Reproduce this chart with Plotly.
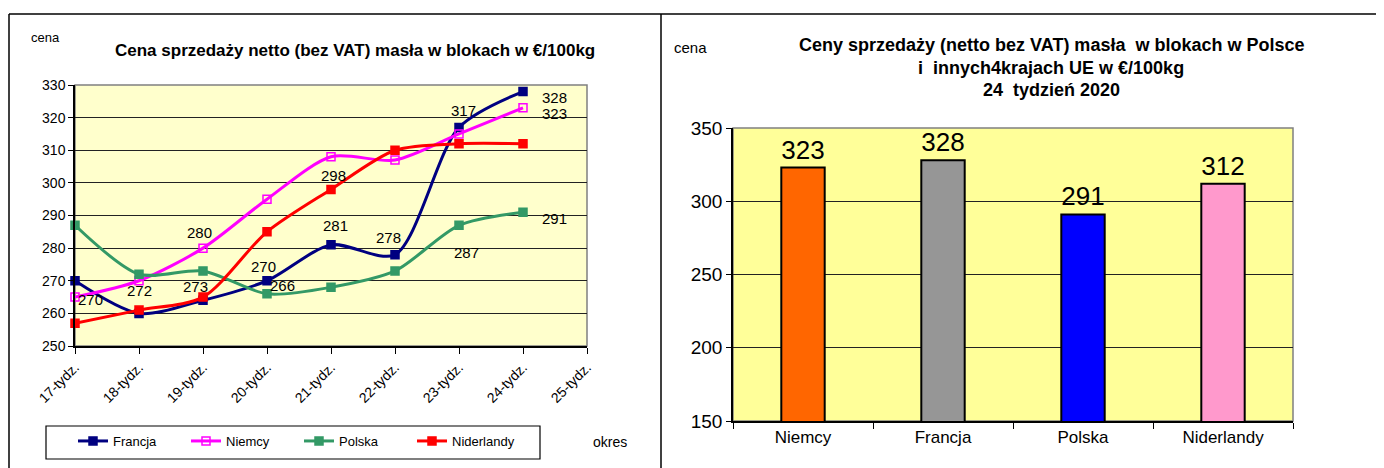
import plotly.graph_objects as go

# ---------------- data ----------------
weeks = ["17-tydz.", "18-tydz.", "19-tydz.", "20-tydz.", "21-tydz.", "22-tydz.", "23-tydz.", "24-tydz.", "25-tydz."]
francja = [270, 260, 264, 270, 281, 278, 317, 328]
niemcy = [265, 270, 280, 295, 308, 307, 315, 323]
polska = [287, 272, 273, 266, 268, 273, 287, 291]
niderlandy = [257, 261, 265, 285, 298, 310, 312, 312]

bar_countries = ["Niemcy", "Francja", "Polska", "Niderlandy"]
bar_values = [323, 328, 291, 312]

OFF = 8  # page body margin
W, H = 1384 - OFF, 468 - OFF
FONT = "Liberation Sans, Arial, sans-serif"


def px(x):
    return (x - OFF) / W


def py(y):
    return 1 - (y - OFF) / H


fig = go.Figure()

series = [
    ("Francja", francja, "#000080", "square"),
    ("Niemcy", niemcy, "#FF00FF", "square-open"),
    ("Polska", polska, "#339966", "square"),
    ("Niderlandy", niderlandy, "#FF0000", "square"),
]
for name, vals, col, sym in series:
    fig.add_trace(go.Scatter(
        x=weeks[:len(vals)], y=vals, name=name, mode="lines+markers",
        line=dict(color=col, width=3, shape="spline", smoothing=0.8),
        marker=dict(color=col, symbol=sym, size=8, line=dict(color=col, width=1.5)),
        xaxis="x", yaxis="y", cliponaxis=False,
    ))

# data labels (series index, point index, dx, dy in pixels)
label_spec = [
    (0, 0, 15, -19), (2, 1, 0, -16), (2, 2, -8, -16), (1, 2, -4, 16),
    (0, 3, -4, 14), (2, 3, 15, 8), (3, 4, 2, 14), (0, 4, 4, 19),
    (0, 5, -7, 17), (0, 6, 4, 17), (2, 6, 7, -27), (0, 7, 31, -6),
    (1, 7, 31, -6), (2, 7, 31, -6),
]
for si, pi, dx, dy in label_spec:
    vals = series[si][1]
    fig.add_annotation(x=weeks[pi], y=vals[pi], xref="x", yref="y",
                       text=str(vals[pi]), showarrow=False, xshift=dx, yshift=dy,
                       font=dict(family=FONT, size=15, color="black"))

fig.add_trace(go.Bar(
    x=bar_countries, y=bar_values, xaxis="x2", yaxis="y2", showlegend=False,
    marker=dict(color=["#FF6600", "#969696", "#0000FF", "#FF99CC"], line=dict(color="black", width=2)),
    width=0.31, text=[str(v) for v in bar_values], textposition="outside",
    textfont=dict(family=FONT, size=26, color="black"), cliponaxis=False,
))

fig.update_layout(
    width=W, height=H, margin=dict(l=0, r=0, t=0, b=0, autoexpand=False),
    paper_bgcolor="white", plot_bgcolor="rgba(0,0,0,0)",
    font=dict(family=FONT, color="black"),
    xaxis=dict(domain=[px(75), px(587)], anchor="y", type="category", automargin=False,
               categoryorder="array", categoryarray=weeks, range=[0, 8],
               tickangle=-45, tickfont=dict(size=14), ticks="outside", ticklen=6,
               tickcolor="black", showline=True, linecolor="black", linewidth=1.5,
               showgrid=False, zeroline=False),
    yaxis=dict(domain=[py(346), py(85)], anchor="x", range=[250, 330], dtick=10, automargin=False,
               tickfont=dict(size=14), ticks="outside", ticklen=5, tickcolor="black",
               showline=True, linecolor="black", linewidth=1.5,
               showgrid=True, gridcolor="#222222", gridwidth=1, zeroline=False),
    xaxis2=dict(domain=[px(733), px(1293)], anchor="y2", tickfont=dict(size=17), automargin=False,
                ticks="outside", ticklen=6, tickcolor="black", tickson="boundaries",
                showline=True, linecolor="black", linewidth=1.5, showgrid=False),
    yaxis2=dict(domain=[py(421), py(128)], anchor="x2", range=[150, 350], dtick=50, automargin=False,
                tickfont=dict(size=19), ticks="outside", ticklen=5, tickcolor="black",
                showline=True, linecolor="black", linewidth=1.5,
                showgrid=True, gridcolor="#222222", gridwidth=1, zeroline=False),
    legend=dict(orientation="h", x=px(73), y=py(426), xanchor="left", yanchor="top",
                xref="container", yref="container",
                borderwidth=0, bgcolor="rgba(0,0,0,0)",
                font=dict(size=13), entrywidth=68, entrywidthmode="pixels",
                itemwidth=30, tracegroupgap=0),
    bargap=0.69,
)

shapes = [
    # plot backgrounds
    dict(type="rect", xref="paper", yref="paper", x0=px(75), x1=px(587), y0=py(346), y1=py(85),
         fillcolor="#FFFFCC", line=dict(color="#808080", width=1.5), layer="below"),
    dict(type="rect", xref="paper", yref="paper", x0=px(733), x1=px(1293), y0=py(421), y1=py(128),
         fillcolor="#FFFF99", line=dict(color="#808080", width=1.5), layer="below"),
    # legend box
    dict(type="rect", xref="paper", yref="paper", x0=px(46), x1=px(540), y0=py(459), y1=py(426),
         fillcolor="white", line=dict(color="black", width=1.2), layer="below"),
    # panel borders
    dict(type="line", xref="paper", yref="paper", x0=px(9), x1=1, y0=py(14), y1=py(14),
         line=dict(color="black", width=1.5)),
    dict(type="line", xref="paper", yref="paper", x0=px(9), x1=px(9), y0=py(14), y1=0,
         line=dict(color="black", width=1.5)),
    dict(type="line", xref="paper", yref="paper", x0=px(661), x1=px(661), y0=py(14), y1=0,
         line=dict(color="black", width=1.5)),
]
fig.update_layout(shapes=shapes)

texts = [
    ("cena", 45, 38, 13, False),
    ("Cena sprzedaży netto (bez VAT) masła w blokach w €/100kg", 355, 50, 17, True),
    ("okres", 610, 442, 14, False),
    ("cena", 690, 48, 15, False),
    ("Ceny sprzedaży (netto bez VAT) masła  w blokach w Polsce", 1051, 45, 18, True),
    ("i  innych4krajach UE w €/100kg", 1051, 68, 18, True),
    ("24  tydzień 2020", 1051, 90, 18, True),
]
for t, x, y, s, b in texts:
    fig.add_annotation(xref="paper", yref="paper", x=px(x), y=py(y), text=(f"<b>{t}</b>" if b else t),
                       showarrow=False, xanchor="center", yanchor="middle",
                       font=dict(family=FONT, size=s, color="black"))

fig.write_html("out.html")
